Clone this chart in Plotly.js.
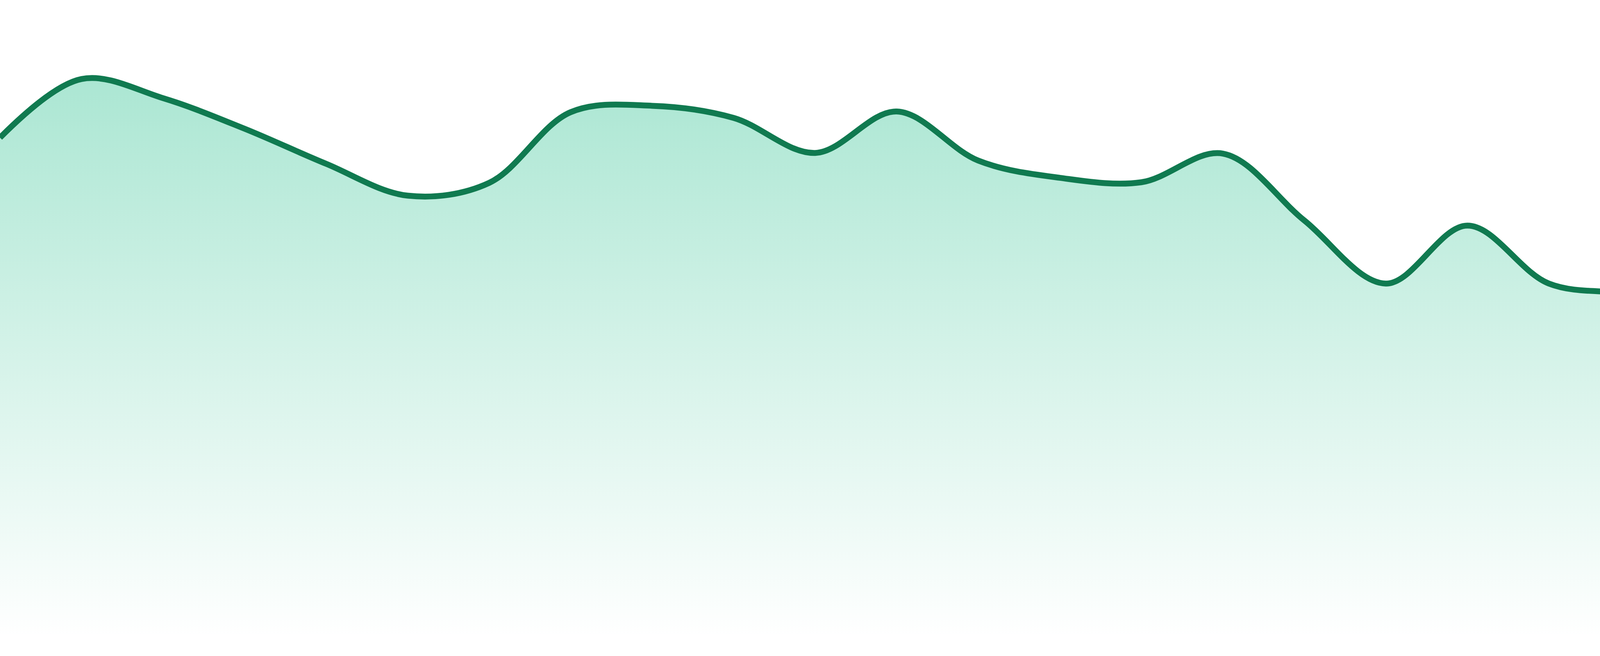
<!DOCTYPE html>
<html>
<head>
<meta charset="utf-8">
<script src="https://cdn.plot.ly/plotly-3.0.1.min.js"></script>
<style>
  html, body { margin: 0; padding: 0; background: #ffffff; }
  #areaChart { width: 4800px; height: 1680px; }
</style>
</head>
<body>
<div id="areaChart"></div>
<script>
// Values (24 evenly spaced points, no axes shown)
var pointIndex = [0, 1, 2, 3, 4, 5, 6, 7, 8, 9, 10, 11,
	12, 13, 14, 15, 16, 17, 18, 19, 20, 21, 22, 23];
var seriesValues = [78.4, 87.6, 84.6, 79.8, 74.3, 69.3, 71.3, 82.4, 83.4, 81.5, 76.0, 82.5,
	74.8, 72.1, 71.4, 75.9, 65.4, 55.5, 64.6, 55.5, 53.9, 51.5, 53.7, 47.5];

// Area trace with a fading green fill under the line:
var areaCTX = [{
	type: 'scatter',
	mode: 'lines',
	x: pointIndex,
	y: seriesValues,
	fill: 'tozeroy',
	fillgradient: {
		type: 'vertical',
		start: 0,
		stop: 100,
		colorscale: [
			[0, 'rgba(16,185,129,0)'],
			[1, 'rgba(16,185,129,0.4)']
		]
	},
	line: {
		color: '#107a50',
		width: 15,
		shape: 'spline',
		smoothing: 1
	},
	hoverinfo: 'skip'
}];

Plotly.newPlot('areaChart', areaCTX, {
	width: 4800,
	height: 1680,
	margin: { l: 0, r: 0, t: 0, b: 48, pad: 0 },
	paper_bgcolor: '#ffffff',
	plot_bgcolor: '#ffffff',
	showlegend: false,
	xaxis: {
		visible: false,
		range: [0, 23],
		fixedrange: true
	},
	yaxis: {
		visible: false,
		range: [0, 100],
		fixedrange: true
	}
}, { displayModeBar: false, staticPlot: true });
</script>
</body>
</html>
